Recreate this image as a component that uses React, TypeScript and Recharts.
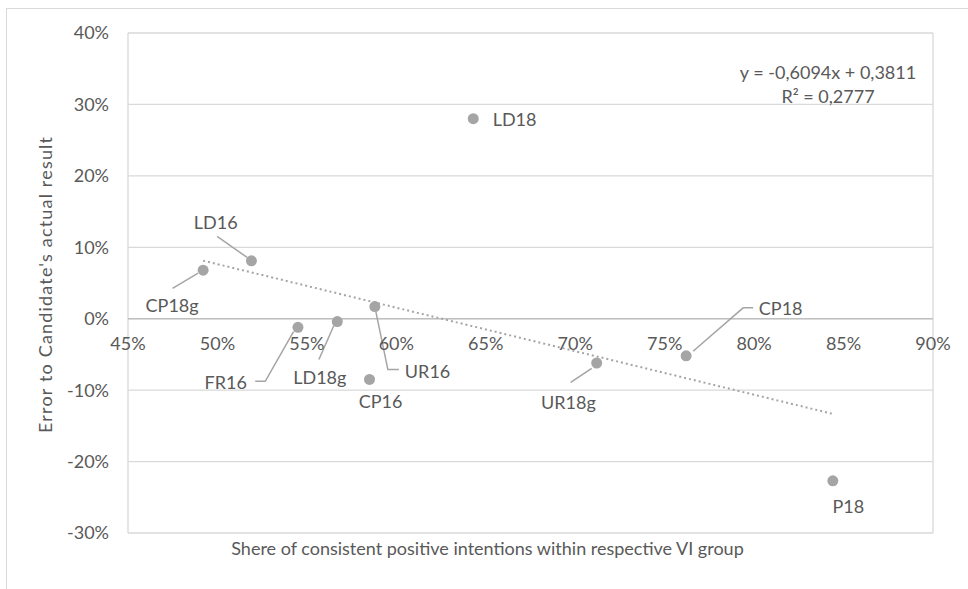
import React from "react";
import {
  ScatterChart,
  Scatter,
  XAxis,
  YAxis,
  CartesianGrid,
  ReferenceLine,
  ReferenceDot
} from "recharts";

// data
const names = ["CP18g", "LD16", "FR16", "LD18g", "UR16", "CP16", "LD18", "UR18g", "CP18", "P18"];
const shares = [0.492, 0.519, 0.545, 0.567, 0.588, 0.585, 0.643, 0.712, 0.762, 0.844];
const errors = [0.068, 0.081, -0.012, -0.004, 0.017, -0.085, 0.280, -0.062, -0.052, -0.227];

const xTicks = [0.45, 0.5, 0.55, 0.6, 0.65, 0.7, 0.75, 0.8, 0.85, 0.9];
const yTicks = [-0.3, -0.2, -0.1, 0, 0.1, 0.2, 0.3, 0.4];

// linear trend, as printed on the chart
const slope = -0.6094;
const intercept = 0.3811;
const rSquared = "0,2777";

const TEXT = "#595959";
const GREY = "#a5a5a5";
const FONT = 18;

type LabelLayout = {
  dx: number;
  dy: number;
  anchor: "start" | "middle" | "end";
  leader?: number[][];
};

// where each data label sits relative to its point (with leader lines)
const labelLayout: Record<string, LabelLayout> = {
  CP18g: { dx: -31, dy: 35, anchor: "middle", leader: [[-30.6, 18.3], [-5, 3]] },
  LD16: { dx: -35.7, dy: -39, anchor: "middle", leader: [[-34.3, -24.4], [-4.3, -3.4]] },
  FR16: { dx: -51, dy: 54.4, anchor: "end", leader: [[-42.7, 54], [-32.7, 54], [-4.4, 4.4]] },
  LD18g: { dx: -17.5, dy: 55.7, anchor: "middle", leader: [[-18.4, 38], [-3.4, 4]] },
  UR16: { dx: 30, dy: 64, anchor: "start", leader: [[1, 5], [13, 63], [24, 63]] },
  CP16: { dx: 11, dy: 22, anchor: "middle" },
  LD18: { dx: 19.4, dy: 0.7, anchor: "start" },
  UR18g: { dx: -28.3, dy: 38.7, anchor: "middle", leader: [[-26, 19.3], [-5, 5.3]] },
  CP18: { dx: 72.7, dy: -48, anchor: "start", leader: [[7, -4.6], [57, -48], [67, -48]] },
  P18: { dx: 15.6, dy: 25, anchor: "middle" }
};

const points = names.map((name, i) => ({ name, x: shares[i], y: errors[i] }));

const xMin = Math.min(...shares);
const xMax = Math.max(...shares);
const trend = [
  { x: xMin, y: slope * xMin + intercept },
  { x: xMax, y: slope * xMax + intercept }
];

const pct = (v: number) => `${Math.round(v * 100)}%`;

const PointShape = (props: any) => {
  const { cx, cy, payload } = props;
  const lay = labelLayout[payload.name];
  return (
    <g>
      {lay && lay.leader && (
        <polyline
          points={lay.leader.map(([a, b]) => `${cx + a},${cy + b}`).join(" ")}
          fill="none"
          stroke={GREY}
          strokeWidth={1.5}
        />
      )}
      <circle cx={cx} cy={cy} r={5.5} fill={GREY} />
      {lay && (
        <text
          x={cx + lay.dx}
          y={cy + lay.dy}
          textAnchor={lay.anchor}
          dominantBaseline="central"
          fill={TEXT}
          fontSize={FONT}
        >
          {payload.name}
        </text>
      )}
    </g>
  );
};

const YTitle = (props: any) => {
  const { viewBox } = props;
  const x = viewBox.x + 45;
  const y = viewBox.y + viewBox.height / 2 + 2;
  return (
    <text
      x={x}
      y={y}
      transform={`rotate(-90, ${x}, ${y})`}
      textAnchor="middle"
      dominantBaseline="central"
      fill={TEXT}
      fontSize={FONT}
      textLength={296}
      lengthAdjust="spacing"
    >
      Error to Candidate's actual result
    </text>
  );
};

const XTitle = (props: any) => {
  const { viewBox } = props;
  return (
    <text
      x={viewBox.x + viewBox.width / 2 - 43}
      y={viewBox.y + 15}
      textAnchor="middle"
      dominantBaseline="central"
      fill={TEXT}
      fontSize={FONT}
    >
      Shere of consistent positive intentions within respective VI group
    </text>
  );
};

const App = () => {
  return (
    <div
      style={{
        position: "absolute",
        left: 0,
        top: 0,
        width: 968,
        height: 589,
        overflow: "hidden",
        background: "#fff",
        fontFamily: "Lato, 'Open Sans', sans-serif"
      }}
    >
      <div
        style={{
          position: "absolute",
          left: 6,
          top: 8,
          width: 980,
          height: 600,
          borderLeft: "1px solid #d9d9d9",
          borderTop: "1px solid #d9d9d9"
        }}
      />
      <div style={{ position: "absolute", left: 0, top: 0 }}>
        <ScatterChart
          width={968}
          height={589}
          margin={{ top: 33, right: 35, bottom: 0, left: 0 }}
        >
          <CartesianGrid stroke="#d9d9d9" strokeWidth={1.3} />
          <XAxis
            type="number"
            dataKey="x"
            domain={[0.45, 0.9]}
            ticks={xTicks}
            tick={false}
            tickLine={false}
            axisLine={false}
            height={56}
            label={{ content: XTitle }}
          />
          <YAxis
            type="number"
            dataKey="y"
            domain={[-0.3, 0.4]}
            ticks={yTicks}
            tickFormatter={pct}
            width={128}
            tickSize={0}
            tickMargin={19}
            tickLine={false}
            axisLine={false}
            tick={{ fill: TEXT, fontSize: FONT }}
            label={{ content: YTitle }}
          />
          <ReferenceLine y={0} stroke="#bfbfbf" strokeWidth={1.6} />
          {xTicks.map((t) => (
            <ReferenceDot
              key={t}
              x={t}
              y={0}
              r={0}
              fill="none"
              stroke="none"
              label={{ value: pct(t), position: "bottom", offset: 19, fill: TEXT, fontSize: FONT }}
            />
          ))}
          <ReferenceLine
            segment={trend}
            stroke={GREY}
            strokeWidth={2}
            strokeDasharray="2 3"
          />
          <Scatter data={points} shape={PointShape} isAnimationActive={false} />
        </ScatterChart>
      </div>
      <div
        style={{
          position: "absolute",
          left: 728,
          top: 61,
          width: 200,
          textAlign: "center",
          color: TEXT,
          fontSize: FONT,
          lineHeight: "23.5px"
        }}
      >
        <div>y = -0,6094x + 0,3811</div>
        <div>
          R² = {rSquared}
        </div>
      </div>
    </div>
  );
};

export default App;
